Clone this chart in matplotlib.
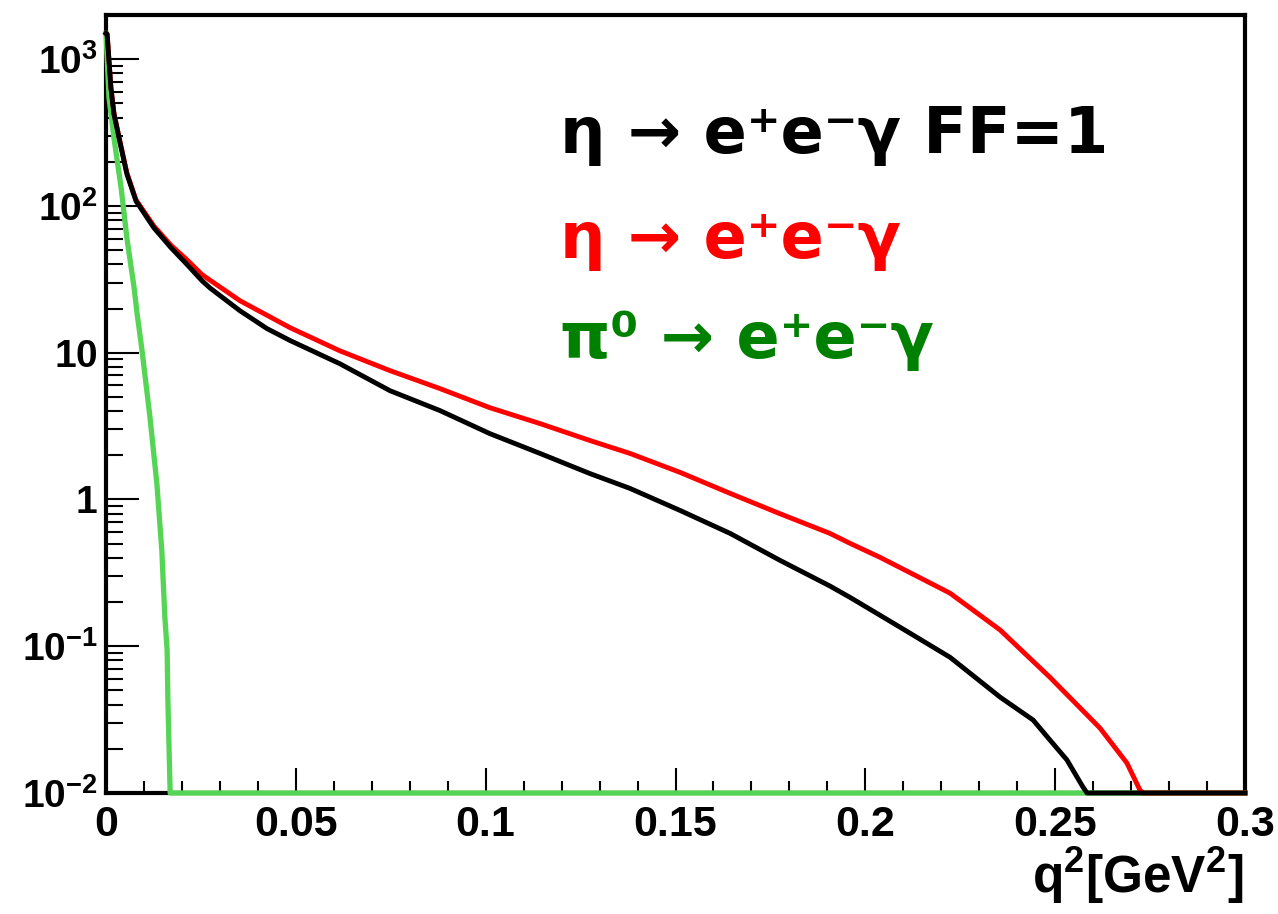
import numpy as np
import matplotlib
matplotlib.use('Agg')
from matplotlib import pyplot as plt
from matplotlib.ticker import FixedLocator, FixedFormatter, LogLocator, NullFormatter, MultipleLocator

# q^2 spectra (0 = empty bins, drawn at the bottom edge)
ff1_x = [0, 0.0003, 0.0013, 0.0021, 0.0040, 0.0055, 0.0079, 0.0126, 0.0171, 0.0213,
         0.0253, 0.0274, 0.0353, 0.0424, 0.0485, 0.0616, 0.0748, 0.0880, 0.1011,
         0.1143, 0.1275, 0.1380, 0.1512, 0.1644, 0.1775, 0.1907, 0.1960, 0.2091,
         0.2223, 0.2355, 0.2442, 0.2486, 0.2531, 0.2573, 0.2584, 0.3]
ff1_y = [1500, 1480, 635, 423, 248, 165, 108, 71, 52, 40,
         30.9, 27.6, 19.3, 14.6, 12.1, 8.41, 5.51, 4.03, 2.81,
         2.06, 1.50, 1.19, 0.842, 0.587, 0.385, 0.257, 0.215, 0.135,
         0.0841, 0.045, 0.0314, 0.023, 0.0168, 0.011, 0, 0]

eta_x = [0, 0.0003, 0.0013, 0.0021, 0.0040, 0.0055, 0.0079, 0.0126, 0.0171, 0.0213,
         0.0253, 0.0353, 0.0485, 0.0616, 0.0748, 0.0880, 0.1011, 0.1143, 0.1275,
         0.1380, 0.1512, 0.1644, 0.1775, 0.1907, 0.1960, 0.2039, 0.2091, 0.2223,
         0.2355, 0.2486, 0.2618, 0.2689, 0.2723, 0.2731, 0.3]
eta_y = [1500, 1480, 640, 428, 252, 168, 110, 73, 54, 43,
         34, 22.6, 14.8, 10.3, 7.55, 5.69, 4.22, 3.29, 2.52,
         2.06, 1.53, 1.10, 0.80, 0.587, 0.502, 0.403, 0.344, 0.23,
         0.129, 0.0615, 0.0277, 0.016, 0.0105, 0, 0]

pi0_x = [0, 0.0008, 0.0021, 0.0040, 0.0055, 0.0074, 0.0082, 0.0095, 0.0116, 0.0134,
         0.0147, 0.0155, 0.0161, 0.0163, 0.0169, 0.3]
pi0_y = [1500, 543, 290, 132, 60.5, 27.7, 18.4, 10.3, 3.6, 1.28,
         0.45, 0.158, 0.094, 0.043, 0, 0]

x_ticks = [0, 0.05, 0.1, 0.15, 0.2, 0.25, 0.3]
x_tick_labels = ['0', '0.05', '0.1', '0.15', '0.2', '0.25', '0.3']
y_ticks = [1e-2, 1e-1, 1, 10, 1e2, 1e3]
y_tick_labels = [r'$\mathbf{10^{-2}}$', r'$\mathbf{10^{-1}}$', r'$\mathbf{1}$',
                 r'$\mathbf{10}$', r'$\mathbf{10^{2}}$', r'$\mathbf{10^{3}}$']

ymin, ymax = 0.01, 2000

plt.rcParams['mathtext.fontset'] = 'custom'
plt.rcParams['mathtext.rm'] = 'Liberation Sans:bold'
plt.rcParams['mathtext.bf'] = 'Liberation Sans:bold'
plt.rcParams['mathtext.it'] = 'Liberation Sans:bold'
plt.rcParams['font.family'] = 'Liberation Sans'

fig = plt.figure(figsize=(12.78, 9.14), dpi=100)
ax = fig.add_axes([106 / 1278, 1 - 793 / 914, 1139 / 1278, 778 / 914])

# Plot (green first so the black zero bins sit on top)
ax.plot(pi0_x, np.clip(pi0_y, ymin, None), color='#55d455', lw=3.8, clip_on=False, zorder=3)
ax.plot(eta_x, np.clip(eta_y, ymin, None), color='#ff0000', lw=3.5, clip_on=False, zorder=4)
ax.plot(ff1_x, np.clip(ff1_y, ymin, None), color='black', lw=3.5, clip_on=False, zorder=5)

ax.set_yscale('log')
ax.set_xlim(0, 0.3)
ax.set_ylim(ymin, ymax)

# Ticks, ROOT style
ax.xaxis.set_major_locator(FixedLocator(x_ticks))
ax.xaxis.set_major_formatter(FixedFormatter(x_tick_labels))
ax.xaxis.set_minor_locator(MultipleLocator(0.01))
ax.yaxis.set_major_locator(FixedLocator(y_ticks))
ax.yaxis.set_major_formatter(FixedFormatter(y_tick_labels))
ax.yaxis.set_minor_locator(LogLocator(base=10, subs=np.arange(2, 10)))
ax.yaxis.set_minor_formatter(NullFormatter())

ax.tick_params(axis='x', which='major', direction='in', length=18, width=1.5, pad=9,
               labelsize=31)
ax.tick_params(axis='x', which='minor', direction='in', length=9, width=1.5)
ax.tick_params(axis='y', which='major', direction='in', length=24, width=1.5, pad=6,
               labelsize=28)
ax.tick_params(axis='y', which='minor', direction='in', length=12, width=1.5)
for lab in ax.get_xticklabels():
    lab.set_fontweight('bold')

for sp in ax.spines.values():
    sp.set_linewidth(3)

# Axis title
fig.text(1243 / 1278, 1 - 893 / 914, r'$\mathbf{q^{2}[GeV^{2}]}$', ha='right',
         va='baseline', fontsize=37)

# Labels for the curves
lab_font = dict(fontsize=46, fontweight='bold', family='DejaVu Sans', va='center', ha='left')
fig.text(560 / 1278, 1 - 135 / 914, 'η → e⁺e⁻γ FF=1', color='black', **lab_font)
fig.text(560 / 1278, 1 - 240 / 914, 'η → e⁺e⁻γ', color='#ff0000', **lab_font)
fig.text(560 / 1278, 1 - 340 / 914, 'π⁰ → e⁺e⁻γ', color='#008000', **lab_font)

plt.savefig('out.png', dpi=100)
